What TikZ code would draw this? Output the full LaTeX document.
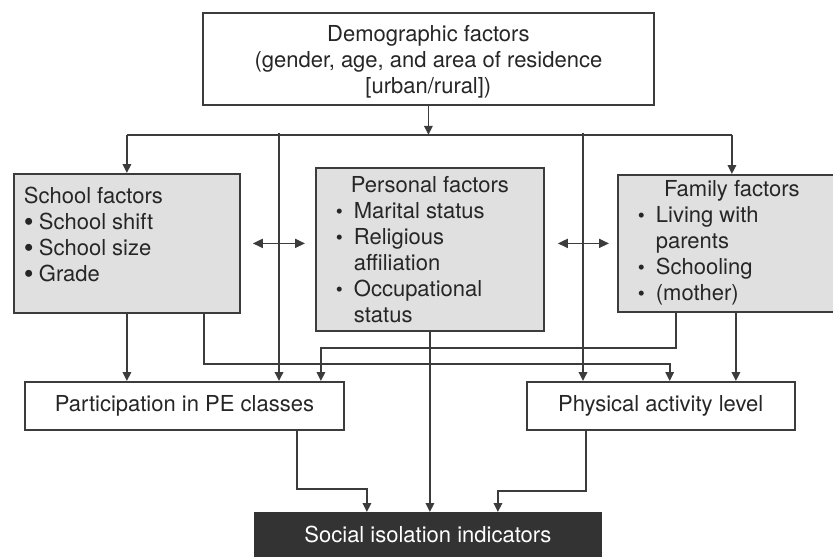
\documentclass[tikz,border=0pt]{standalone}
\usepackage{fontspec}
\setmainfont{TeX Gyre Heros}
\usepackage{xcolor}
\usepackage{tikz}
\usetikzlibrary{arrows.meta,positioning,calc}

\definecolor{linegray}{HTML}{3C3C3C}
\definecolor{boxgray}{HTML}{E0E0E0}
\definecolor{textgray}{HTML}{262626}
\definecolor{darkbox}{HTML}{333333}

\newcommand{\bigitem}[1]{\makebox[15pt][l]{\raisebox{-1.5pt}{\fontsize{28}{28}\selectfont\textbullet}}#1}
\newcommand{\dotitem}[1]{\makebox[18pt][l]{\fontsize{20}{20}\selectfont\textbullet}#1}

\begin{document}
\begin{tikzpicture}[x=1pt, y=-1pt, font=\fontsize{22}{26}\selectfont, text=textgray,
    factor/.style={rectangle, draw=linegray, line width=1.8pt, fill=boxgray, inner sep=0pt, anchor=north west},
    outcome/.style={rectangle, draw=linegray, line width=1.8pt, fill=white, inner sep=0pt, anchor=north west, align=center},
    wire/.style={draw=linegray, line width=1.8pt},
    link/.style={wire, -{Triangle[length=9pt, width=8.5pt]}},
    dlink/.style={wire, {Triangle[length=10pt, width=9pt]}-{Triangle[length=10pt, width=9pt]}}]

    \useasboundingbox (0,0) rectangle (833,557);

    % Demographic
    \node[factor, fill=white] (demo) at (202,12) {\parbox[c][92pt][t]{451pt}{\centering\rule{0pt}{29pt}Demographic factors\\
        (gender, age, and area of residence\\{}[urban/rural])}};

    % School / Personal / Family
    \node[factor] (school) at (13,173) {\parbox[c][139pt][t]{226pt}{\raggedright\leftskip=10pt\rule{0pt}{30pt}School factors\\
        \bigitem{School shift}\\
        \bigitem{School size}\\
        \bigitem{Grade}}};
    \node[factor] (personal) at (315,167) {\parbox[c][163pt][t]{228pt}{\centering\rule{0pt}{25pt}Personal factors\par
        \raggedright\leftskip=20pt
        \dotitem{Marital status}\\
        \dotitem{Religious}\\
        \hspace*{18pt}affiliation\\
        \dotitem{Occupational}\\
        \hspace*{18pt}status}};
    \node[factor] (family) at (617,174) {\parbox[c][137pt][t]{228pt}{\centering\rule{0pt}{22pt}Family factors\par
        \raggedright\leftskip=20pt
        \dotitem{Living with}\\
        \hspace*{18pt}parents\\
        \dotitem{Schooling}\\
        \dotitem{(mother)}}};

    % Outcomes
    \node[outcome, minimum width=319pt, minimum height=48pt] (part) at (24,381) {Participation in PE classes};
    \node[outcome, minimum width=268pt, minimum height=48pt, right=181pt of part] (pa) {Physical activity level};
    \node[outcome, draw=darkbox, fill=darkbox, text=white, minimum width=346pt, minimum height=44pt] (social) at (254,512) {Social isolation indicators};

    % Connections from the top
    \coordinate (hub) at ([yshift=-29pt]demo.south);
    \coordinate (dropL) at (279,133);
    \coordinate (dropR) at (583,133);
    \draw[link] (demo.south) -- (hub);
    \draw[wire] (school.north |- hub) -- (family.north |- hub);
    \draw[link] (school.north |- hub) -- (school.north);
    \draw[link] (family.north |- hub) -- (family.north);
    \draw[link] (dropL) -- (dropL |- part.north);
    \draw[link] (dropR) -- (dropR |- pa.north);

    % Between factors
    \draw[dlink] ([xshift=12pt]school.east) -- ($(school.east -| personal.west)+(-10,0)$);
    \draw[dlink] ($(family.west -| personal.east)+(13,0)$) -- ([xshift=-8pt]family.west);

    % Factors to outcomes
    \coordinate (famR) at ([xshift=4pt]family.south);
    \draw[link] (school.south) -- (school.south |- part.north);
    \draw[link] ([xshift=-37pt]school.south east) -- ++(0,50) -| ([xshift=9pt]pa.north);
    \draw[link] ([xshift=-56pt]family.south) -- ++(0,35) -| ([xshift=136.5pt]part.north);
    \draw[link] (famR) -- (famR |- pa.north);
    \draw[link] (personal.south) -- (personal.south |- social.north);

    % Outcomes to social isolation
    \draw[link] ([xshift=-48pt]part.south east) -- ++(0,58) -| ([xshift=-61pt]social.north);
    \draw[link] ([xshift=60pt]pa.south west) -- ++(0,60) -| ([xshift=70pt]social.north);

\end{tikzpicture}
\end{document}
